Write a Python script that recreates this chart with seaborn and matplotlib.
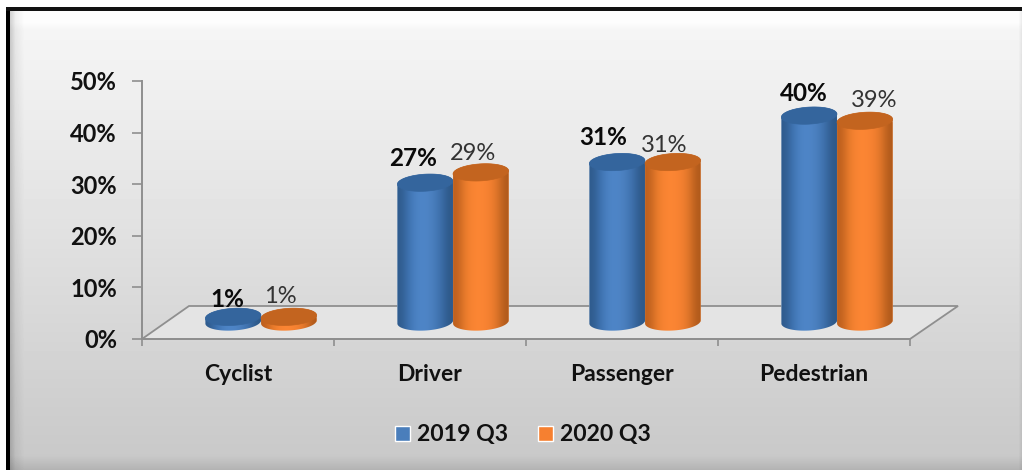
import numpy as np
import pandas as pd
import seaborn as sns
import matplotlib.pyplot as plt
from matplotlib.colors import to_rgb
from matplotlib.patches import PathPatch, Polygon, Rectangle
from matplotlib.path import Path
from matplotlib.transforms import Affine2D, IdentityTransform

categories = ['Cyclist', 'Driver', 'Passenger', 'Pedestrian']
series_names = ['2019 Q3', '2020 Q3']
values_2019 = [1, 27, 31, 40]
values_2020 = [1, 29, 31, 39]
y_ticks = [0, 10, 20, 30, 40, 50]

W, H = 1022, 470
DEPTH_X, DEPTH_Y = 23, 17     # bars stand this far into the floor
FLOOR_X, FLOOR_Y = 47, 33
CAP_B, TILT = 8.5, np.radians(3.5)
GREY = '#8f8f8f'
TXT = '#111111'

colors = {'2019 Q3': '#4a7ebb', '2020 Q3': '#f68030'}
shades = {
    '2019 Q3': (['#2f5b8d', '#3f74b3', '#4d84c6', '#4f86c8', '#4a7fbe', '#3d6fab', '#2d5888'], '#34659d'),
    '2020 Q3': (['#bd601e', '#ea7c2c', '#fb8533', '#fc8634', '#f68131', '#e0762a', '#b05a1b'], '#c3641f'),
}
# label nudges in pixels, one per bar
nudges = {
    '2019 Q3': [(-6, 17), (-12, 24), (-14, 25), (-5, 22)],
    '2020 Q3': [(-9, 20), (-8, 19), (-9, 17), (9, 20)],
}

sns.set_theme(style='white')
plt.rcParams['font.family'] = ['Lato', 'DejaVu Sans']

df = pd.DataFrame({
    'category': categories * 2,
    'series': [series_names[0]] * 4 + [series_names[1]] * 4,
    'value': values_2019 + values_2020,
})


def draw_background(fig):
    bg = fig.add_axes([0, 0, 1, 1], zorder=-5)
    bg.set_axis_off()
    yy = np.arange(H)
    xx = np.arange(W)
    vert = np.interp(yy, [0, 10, 22, 30, 240, 455, 470], [253, 253, 253, 245, 224, 201, 178])
    left = np.interp(xx, [0, 9, 15, 24, W], [0.8, 0.8, 0.94, 1, 1])
    right = np.interp(xx, [0, W - 4, W], [1, 1, 0.92])
    img = np.outer(vert, left * right) / 255
    bg.imshow(img, cmap='gray', vmin=0, vmax=1, extent=(0, W, 0, H), aspect='auto', origin='upper')
    bg.add_patch(Rectangle((0, 0), 6, H, color='white', lw=0))
    bg.add_patch(Rectangle((0, H - 7), W, 7, color='white', lw=0))
    bg.add_patch(Rectangle((6, 0), 3.5, H - 7, color='black', lw=0))
    bg.add_patch(Rectangle((6, H - 10.5), W, 3.5, color='#111111', lw=0))
    bg.set_xlim(0, W)
    bg.set_ylim(0, H)


def ellipse_pts(cx, cy, a, t):
    x = cx + a * np.cos(t) * np.cos(TILT) - CAP_B * np.sin(t) * np.sin(TILT)
    y = cy + a * np.cos(t) * np.sin(TILT) + CAP_B * np.sin(t) * np.cos(TILT)
    return np.column_stack([x, y])


def draw_cylinder(ax, bar, name, order):
    (x0, y0), (x1, y1) = ax.transData.transform(
        [(bar.get_x(), 0), (bar.get_x() + bar.get_width(), bar.get_height())])
    x0, x1 = x0 + DEPTH_X, x1 + DEPTH_X
    y0, y1 = y0 + DEPTH_Y, y1 + DEPTH_Y
    a = (x1 - x0) / 2
    cx = (x0 + x1) / 2

    top = ellipse_pts(cx, y1, a, np.linspace(0, np.pi, 40))
    low = ellipse_pts(cx, y0, a, np.linspace(np.pi, 2 * np.pi, 40))
    outline = np.vstack([top, low, top[:1]])
    shape = PathPatch(Path(outline), transform=IdentityTransform(), fc='none', ec='none')
    ax.add_patch(shape)

    # the flat seaborn bar is moved into depth and cut to the cylinder shape
    bar.set_transform(ax.transData + Affine2D().translate(DEPTH_X, DEPTH_Y))
    bar.set_clip_path(shape)
    bar.set_zorder(order)

    stops, cap = shades[name]
    rgb = np.array([[to_rgb(c) for c in stops]])
    im = ax.imshow(rgb, extent=(x0, x1, y0 - CAP_B - 4, y1 + CAP_B + 4), aspect='auto',
                   interpolation='bicubic', transform=IdentityTransform(), zorder=order + 0.1)
    im.set_clip_path(shape)

    ax.add_patch(Polygon(ellipse_pts(cx, y1, a, np.linspace(0, 2 * np.pi, 80)),
                         transform=IdentityTransform(), fc=cap, ec=cap, lw=0.5,
                         zorder=order + 0.2, clip_on=False))
    return cx, y1


fig = plt.figure(figsize=(W / 100, H / 100), dpi=100, facecolor='white')
draw_background(fig)

ax = fig.add_axes([142 / W, (H - 339) / H, (910 - 142) / W, (339 - 81) / H])
ax.patch.set_alpha(0)

sns.barplot(data=df, x='category', y='value', hue='series', hue_order=series_names,
            order=categories, palette=colors, width=0.58, gap=0, saturation=1, ax=ax)
ax.set_xlim(-0.5, 3.5)
ax.set_ylim(0, 50)
ax.set_xlabel('')
ax.set_ylabel('')
ax.set_yticks(y_ticks)
ax.set_yticklabels([f'{v}%' for v in y_ticks], fontsize=17, fontweight='bold', color=TXT)
ax.set_xticks(range(4))
ax.set_xticklabels(categories, fontsize=16.5, fontweight='bold', color=TXT)
ax.set_xticks(np.arange(-0.5, 4), minor=True)
ax.tick_params(axis='x', which='major', length=0, pad=18)
ax.tick_params(axis='x', which='minor', length=5, width=1.2, color=GREY, direction='out', bottom=True)
ax.tick_params(axis='y', length=7, width=1.2, color=GREY, direction='out', left=True, pad=11)
sns.despine(ax=ax, top=True, right=True)
for side in ['left', 'bottom']:
    ax.spines[side].set_color(GREY)
    ax.spines[side].set_linewidth(1.4)

# floor of the 3d plot
(fx0, fy0), (fx1, _) = ax.transData.transform([(-0.5, 0), (3.5, 0)])
floor = np.array([(fx0, fy0), (fx0 + FLOOR_X, fy0 + FLOOR_Y), (fx1 + FLOOR_X + 1, fy0 + FLOOR_Y), (fx1, fy0)])
ax.add_patch(Polygon(floor, closed=True, transform=IdentityTransform(), fc='#e4e4e4',
                     ec=GREY, lw=1.3, zorder=1, clip_on=False))

for s, name in enumerate(series_names):
    for i, bar in enumerate(ax.containers[s]):
        order = 3 + i + s * 0.5
        cx, top = draw_cylinder(ax, bar, name, order)
        dx, dy = nudges[name][i]
        val = df.loc[(df.series == name) & (df.category == categories[i]), 'value'].iloc[0]
        ax.text(cx + dx, top + dy, f'{val}%', transform=IdentityTransform(), ha='center', va='center',
                fontsize=17.5 if s == 0 else 17, fontweight='bold' if s == 0 else 'normal',
                color='#0a0a0a' if s == 0 else '#333333', zorder=10, clip_on=False)

sns.move_legend(ax, 'center', bbox_to_anchor=(523 / W, (H - 435) / H), bbox_transform=fig.transFigure,
                ncol=2, title=None, frameon=False, handlelength=0.65, handleheight=0.65,
                handletextpad=0.3, columnspacing=1.3,
                labelcolor=TXT, prop={'weight': 'bold', 'size': 16.6})

fig.savefig('out.png', dpi=100)
